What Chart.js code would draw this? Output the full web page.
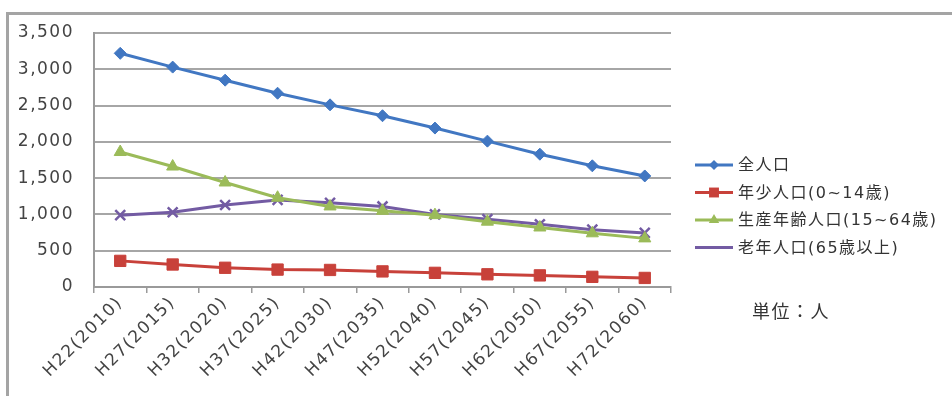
<!DOCTYPE html>
<html>
<head>
<meta charset="utf-8">
<script src="https://cdn.jsdelivr.net/npm/chart.js@4.4.1/dist/chart.umd.min.js"></script>
<style>
    body { margin: 0; background: #fff; }
    #wrap { position: absolute; left: 0; top: 0; width: 952px; height: 396px; }
</style>
</head>
<body>
<div id="wrap"><canvas id="chart" width="952" height="396"></canvas></div>
<script>
const labels = ['H22(2010)', 'H27(2015)', 'H32(2020)', 'H37(2025)', 'H42(2030)', 'H47(2035)',
    'H52(2040)', 'H57(2045)', 'H62(2050)', 'H67(2055)', 'H72(2060)']
const seriesNames = ['全人口', '年少人口(0~14歳)', '生産年齢人口(15~64歳)', '老年人口(65歳以上)']
const totalPop = [3220, 3030, 2850, 2670, 2510, 2360, 2190, 2010, 1830, 1670, 1530]
const youngPop = [360, 310, 265, 240, 235, 215, 195, 175, 160, 140, 125]
const workingPop = [1860, 1660, 1440, 1230, 1110, 1050, 990, 900, 820, 740, 670]
const elderlyPop = [990, 1030, 1130, 1200, 1160, 1110, 1000, 935, 865, 790, 745]
const yTicks = [0, 500, 1000, 1500, 2000, 2500, 3000, 3500]
const unitText = '単位：人'

const FONT = '"DejaVu Sans", "Noto Sans CJK JP", sans-serif'
const SPACING = '1.5px'

const colors = ['#4177c2', '#c8413a', '#9bbb59', '#735ba3']
const markers = ['rectRot', 'rect', 'triangle', 'crossRot']
const radii = [6, 8, 7, 7]

const makeSet = (i, data) => ({
    label: seriesNames[i],
    data: data,
    borderColor: colors[i],
    backgroundColor: colors[i],
    pointBackgroundColor: colors[i],
    pointBorderColor: colors[i],
    pointBorderWidth: markers[i] === 'crossRot' ? 2.5 : 1,
    pointStyle: markers[i],
    pointRadius: radii[i],
    borderWidth: 3,
    tension: 0
})

// letter spacing so the text is as wide as in the picture
const spacingPlugin = {
    id: 'spacing',
    beforeUpdate(chart) { chart.ctx.letterSpacing = SPACING },
    beforeDraw(chart) { chart.ctx.letterSpacing = SPACING }
}

// outer frame of the excel chart, cut off at right and bottom
const framePlugin = {
    id: 'frame',
    afterDraw(chart) {
        const ctx = chart.ctx
        ctx.save()
        ctx.strokeStyle = '#a4a4a4'
        ctx.lineWidth = 3
        ctx.beginPath()
        ctx.moveTo(7.5, 400)
        ctx.lineTo(7.5, 13.5)
        ctx.lineTo(960, 13.5)
        ctx.stroke()
        ctx.restore()
    }
}

// excel style legend: line with marker, plus unit note
const legendPlugin = {
    id: 'excelLegend',
    afterDraw(chart) {
        const ctx = chart.ctx
        ctx.save()
        ctx.letterSpacing = SPACING
        chart.data.datasets.forEach((ds, i) => {
            const y = 165 + i * 27.5
            ctx.strokeStyle = ds.borderColor
            ctx.lineWidth = 3
            ctx.beginPath()
            ctx.moveTo(695, y)
            ctx.lineTo(733, y)
            ctx.stroke()
            ctx.fillStyle = ds.pointBackgroundColor
            ctx.strokeStyle = ds.pointBorderColor
            ctx.lineWidth = ds.pointBorderWidth
            Chart.helpers.drawPoint(ctx, {pointStyle: ds.pointStyle, radius: ds.pointRadius - 1, rotation: 0}, 714, y)
            ctx.fillStyle = '#333'
            ctx.font = '16px ' + FONT
            ctx.textAlign = 'left'
            ctx.textBaseline = 'middle'
            ctx.fillText(ds.label, 738, y + 1)
        })
        ctx.font = '18px ' + FONT
        ctx.fillStyle = '#333'
        ctx.textBaseline = 'middle'
        ctx.fillText(unitText, 752, 313)
        ctx.restore()
    }
}

new Chart(document.getElementById('chart'), {
    type: 'line',
    data: {
        labels: labels,
        datasets: [makeSet(0, totalPop), makeSet(1, youngPop), makeSet(2, workingPop), makeSet(3, elderlyPop)]
    },
    options: {
        responsive: false,
        animation: false,
        layout: {padding: {left: 0, right: 281, top: 33, bottom: 0}},
        plugins: {legend: {display: false}, tooltip: {enabled: false}},
        scales: {
            x: {
                offset: true,
                grid: {offset: true, drawOnChartArea: false, tickLength: 6, color: '#9a9a9a', lineWidth: 1.5},
                border: {color: '#9a9a9a', width: 2},
                ticks: {
                    autoSkip: false, minRotation: 45, maxRotation: 45, padding: 0,
                    color: '#444', font: {family: FONT, size: 17}
                },
                afterFit: scale => { scale.height = 109 }
            },
            y: {
                min: 0,
                max: 3500,
                afterBuildTicks: scale => { scale.ticks = yTicks.map(v => ({value: v})) },
                grid: {color: '#a6a6a6', lineWidth: 2, drawTicks: false},
                border: {color: '#9a9a9a', width: 2},
                ticks: {
                    padding: 20, color: '#444', font: {family: FONT, size: 17},
                    callback: v => v.toLocaleString('en-US')
                },
                afterFit: scale => { scale.width = 94 }
            }
        }
    },
    plugins: [spacingPlugin, legendPlugin, framePlugin]
})
</script>
</body>
</html>
